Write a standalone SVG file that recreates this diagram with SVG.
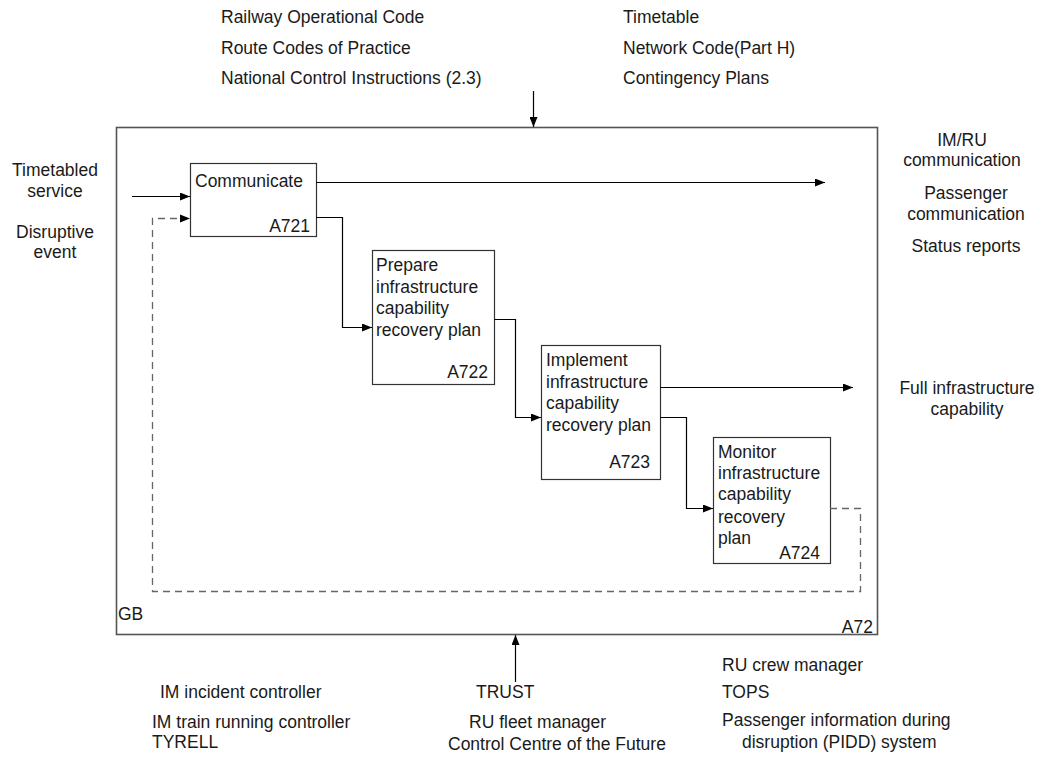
<svg xmlns="http://www.w3.org/2000/svg" width="1043" height="757" viewBox="0 0 1043 757">
  <defs>
    <marker id="arrow" viewBox="0 0 10 8" refX="10" refY="4" markerWidth="10" markerHeight="8" markerUnits="userSpaceOnUse" orient="auto">
      <path d="M0,0 L10,4 L0,8 Z" fill="#000"/>
    </marker>
  </defs>
  <style>
    text { font-family: "Liberation Sans", Arial, sans-serif; font-size: 17.5px; fill: #1a1a1a; }
    .mid { text-anchor: middle; }
    .end { text-anchor: end; }
    .frame { fill: none; stroke: #555; stroke-width: 1.6; }
    .box { fill: #fff; stroke: #333; stroke-width: 1.2; }
    .flow { fill: none; stroke: #000; stroke-width: 1.2; }
    .feedback { fill: none; stroke: #666; stroke-width: 1.3; stroke-dasharray: 7 5; }
  </style>
  <rect width="1043" height="757" fill="#fff"/>

  <!-- context frame -->
  <g id="frame">
    <rect class="frame" x="116.5" y="127.5" width="761" height="507"/>
    <text x="118" y="620">GB</text>
    <text class="end" x="873" y="633">A72</text>
  </g>

  <!-- controls -->
  <g id="controls">
    <text x="221" y="23">Railway Operational Code</text>
    <text x="221" y="54">Route Codes of Practice</text>
    <text x="221" y="84">National Control Instructions (2.3)</text>
    <text x="623" y="23">Timetable</text>
    <text x="623" y="54">Network Code(Part H)</text>
    <text x="623" y="84">Contingency Plans</text>
  </g>

  <!-- inputs -->
  <g id="inputs">
    <text class="mid" x="55" y="176">Timetabled</text>
    <text class="mid" x="55" y="197">service</text>
    <text class="mid" x="55" y="238">Disruptive</text>
    <text class="mid" x="55" y="258">event</text>
  </g>

  <!-- outputs -->
  <g id="outputs">
    <text class="mid" x="962" y="146">IM/RU</text>
    <text class="mid" x="962" y="166">communication</text>
    <text class="mid" x="966" y="199">Passenger</text>
    <text class="mid" x="966" y="220">communication</text>
    <text class="mid" x="966" y="252">Status reports</text>
    <text class="mid" x="967" y="394">Full infrastructure</text>
    <text class="mid" x="967" y="415">capability</text>
  </g>

  <!-- mechanisms -->
  <g id="mechanisms">
    <text x="160" y="698">IM incident controller</text>
    <text x="152" y="728">IM train running controller</text>
    <text x="152" y="748">TYRELL</text>
    <text x="476" y="698">TRUST</text>
    <text x="469" y="728">RU fleet manager</text>
    <text x="448" y="750">Control Centre of the Future</text>
    <text x="722" y="671">RU crew manager</text>
    <text x="722" y="698">TOPS</text>
    <text x="722" y="726">Passenger information during</text>
    <text x="742" y="748">disruption (PIDD) system</text>
  </g>

  <!-- activity boxes -->
  <g id="A721">
    <rect class="box" x="190.5" y="163.5" width="126" height="73"/>
    <text x="195" y="187">Communicate</text>
    <text class="end" x="310" y="232">A721</text>
  </g>
  <g id="A722">
    <rect class="box" x="372.5" y="250.5" width="122" height="134"/>
    <text x="376" y="271">Prepare</text>
    <text x="376" y="293">infrastructure</text>
    <text x="376" y="314">capability</text>
    <text x="376" y="336">recovery plan</text>
    <text class="end" x="488" y="378">A722</text>
  </g>
  <g id="A723">
    <rect class="box" x="541.5" y="345.5" width="119" height="134"/>
    <text x="546" y="366">Implement</text>
    <text x="546" y="388">infrastructure</text>
    <text x="546" y="409">capability</text>
    <text x="546" y="431">recovery plan</text>
    <text class="end" x="650" y="468">A723</text>
  </g>
  <g id="A724">
    <rect class="box" x="713.5" y="437.5" width="117" height="126"/>
    <text x="718" y="458">Monitor</text>
    <text x="718" y="479">infrastructure</text>
    <text x="718" y="500">capability</text>
    <text x="718" y="523">recovery</text>
    <text x="718" y="544">plan</text>
    <text class="end" x="820" y="559">A724</text>
  </g>

  <!-- connectors -->
  <g id="connectors">
    <line class="flow" x1="533.5" y1="91" x2="533.5" y2="127" marker-end="url(#arrow)"/>
    <line class="flow" x1="515.5" y1="682" x2="515.5" y2="635" marker-end="url(#arrow)"/>
    <line class="flow" x1="132" y1="196.5" x2="190" y2="196.5" marker-end="url(#arrow)"/>
    <line class="flow" x1="316" y1="182.5" x2="825" y2="182.5" marker-end="url(#arrow)"/>
    <polyline class="flow" points="316,217.5 342.5,217.5 342.5,327.5 372,327.5" marker-end="url(#arrow)"/>
    <polyline class="flow" points="494,319.5 515.5,319.5 515.5,417.5 541,417.5" marker-end="url(#arrow)"/>
    <line class="flow" x1="660" y1="387.5" x2="853" y2="387.5" marker-end="url(#arrow)"/>
    <polyline class="flow" points="660,417.5 686.5,417.5 686.5,508.5 713,508.5" marker-end="url(#arrow)"/>
    <polyline class="feedback" points="830,508.5 860.5,508.5 860.5,591.5 152.5,591.5 152.5,218.5 182,218.5"/>
    <path d="M180,214.5 L190,218.5 L180,222.5 Z" fill="#000"/>
  </g>
</svg>
